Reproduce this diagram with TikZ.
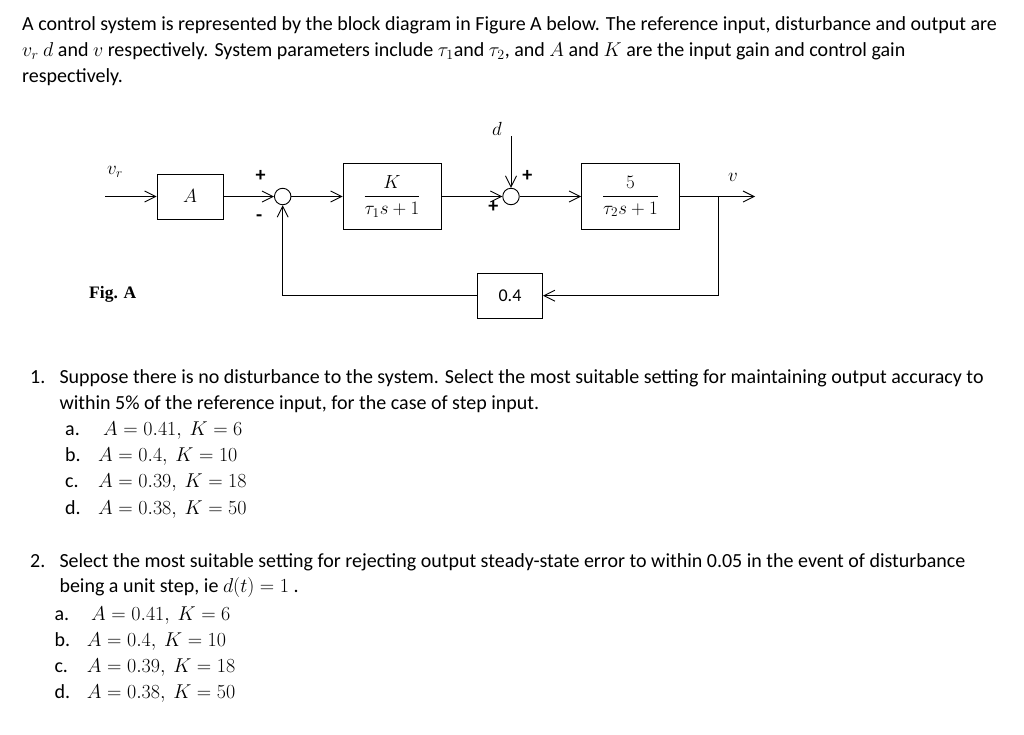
\RequirePackage{fix-cm}
\documentclass[tikz,border=0pt]{standalone}
\usepackage{amsmath}
\usepackage{fontspec}
\setmainfont{Carlito}
\newfontfamily\figfont{Liberation Serif}
\usetikzlibrary{arrows.meta,positioning}

\tikzset{
  txt/.style={anchor=base west, inner sep=0pt, font=\fontsize{20}{24}\selectfont},
  block/.style={draw, line width=0.9pt, inner sep=0pt, font=\fontsize{19}{21}\selectfont},
  sumnode/.style={draw, circle, line width=0.9pt, minimum size=16.5pt, inner sep=0pt},
  sig/.style={line width=0.9pt, -{Straight Barb[length=11pt,width=11pt,line width=0.9pt]}},
  sgn/.style={inner sep=0pt, font=\fontsize{20}{20}\selectfont\bfseries},
  lbl/.style={inner sep=0pt, font=\fontsize{19}{19}\selectfont},
}

\begin{document}
\begin{tikzpicture}[x=1pt, y=-1pt]
  \useasboundingbox[fill=white] (0,0) rectangle (1024,734);

  % problem statement
  \node[txt] (intro1) at (22,30.7) {A control system is represented by the block diagram in Figure A below. The reference input, disturbance and output are};
  \node[txt] (intro2) at (22,56.7) {$v_r$ $d$ and $v$ respectively. System parameters include $\tau_1$and $\tau_2$, and $A$ and $K$ are the input gain and control gain};
  \node[txt] (intro3) at (22,82.7) {respectively.};

  % block diagram
  \coordinate (in) at (105,196.5);
  \node[block, minimum width=66pt, minimum height=45pt] (gainA) at (190,196.5) {$A$};
  \node[sumnode] (sum1) at (282.7,196.5) {};
  \node[block, minimum width=98pt, minimum height=66pt] (ctrl) at (392,196.5) {$\dfrac{K}{\tau_1 s+1}$};
  \node[sumnode] (sum2) at (511,196.5) {};
  \node[block, minimum width=98pt, minimum height=66pt] (plant) at (630.5,196.5) {$\dfrac{5}{\tau_2 s+1}$};
  \node[block, minimum width=65pt, minimum height=45pt, font=\fontsize{18}{18}\selectfont] (fb) at (510,295.7) {0.4};
  \coordinate (dtop) at (511,136);
  \coordinate (branch) at (718.7,196.5);
  \coordinate (out) at (755,196.5);

  \node[lbl] (vr) at (115,172) {$v_r$};
  \node[lbl] (dist) at (497,129) {$d$};
  \node[lbl] (vout) at (733,177) {$v$};
  \node[sgn] (p1) at (260.7,175.7) {+};
  \node[sgn] (m1) at (259.3,218) {-};
  \node[sgn] (p2) at (527.3,176) {+};
  \node[sgn] (p3) at (493.3,207) {+};
  \node[anchor=base west, inner sep=0pt, font=\figfont\bfseries\fontsize{17.5}{18}\selectfont] (figA) at (89,298) {Fig. A};

  \draw[sig] (in) -- (gainA);
  \draw[sig] (gainA) -- (sum1);
  \draw[sig] (sum1) -- (ctrl);
  \draw[sig] (ctrl) -- (sum2);
  \draw[sig] (dtop) -- (sum2);
  \draw[sig] (sum2) -- (plant);
  \draw[sig] (plant) -- (out);
  \draw[sig] (branch) |- (fb);
  \draw[sig] (fb) -| (sum1);

  % question 1
  \node[txt] (q1n) at (30,383.3) {1.};
  \node[txt] (q1l1) at (59.3,383.3) {Suppose there is no disturbance to the system. Select the most suitable setting for maintaining output accuracy to};
  \node[txt] (q1l2) at (59.3,409.3) {within 5\% of the reference input, for the case of step input.};
  \foreach \lab/\mx/\val/\yy in {a/103/{A=0.41,\ K=6}/435.7, b/98/{A=0.4,\ K=10}/461.7,
      c/98/{A=0.39,\ K=18}/487.7, d/98/{A=0.38,\ K=50}/514}{
    \node[txt] (q1\lab) at (65,\yy) {\lab.};
    \node[txt] (q1\lab v) at (\mx,\yy) {$\val$};
  }

  % question 2
  \node[txt] (q2n) at (30,567.3) {2.};
  \node[txt] (q2l1) at (59.3,567.3) {Select the most suitable setting for rejecting output steady-state error to within 0.05 in the event of disturbance};
  \node[txt] (q2l2) at (59.3,592.7) {being a unit step, ie $d(t)=1$ .};
  \foreach \lab/\mx/\val/\yy in {a/91/{A=0.41,\ K=6}/620.7, b/86.7/{A=0.4,\ K=10}/646.7,
      c/86.7/{A=0.39,\ K=18}/672.7, d/86.7/{A=0.38,\ K=50}/698}{
    \node[txt] (q2\lab) at (54.3,\yy) {\lab.};
    \node[txt] (q2\lab v) at (\mx,\yy) {$\val$};
  }
\end{tikzpicture}
\end{document}
